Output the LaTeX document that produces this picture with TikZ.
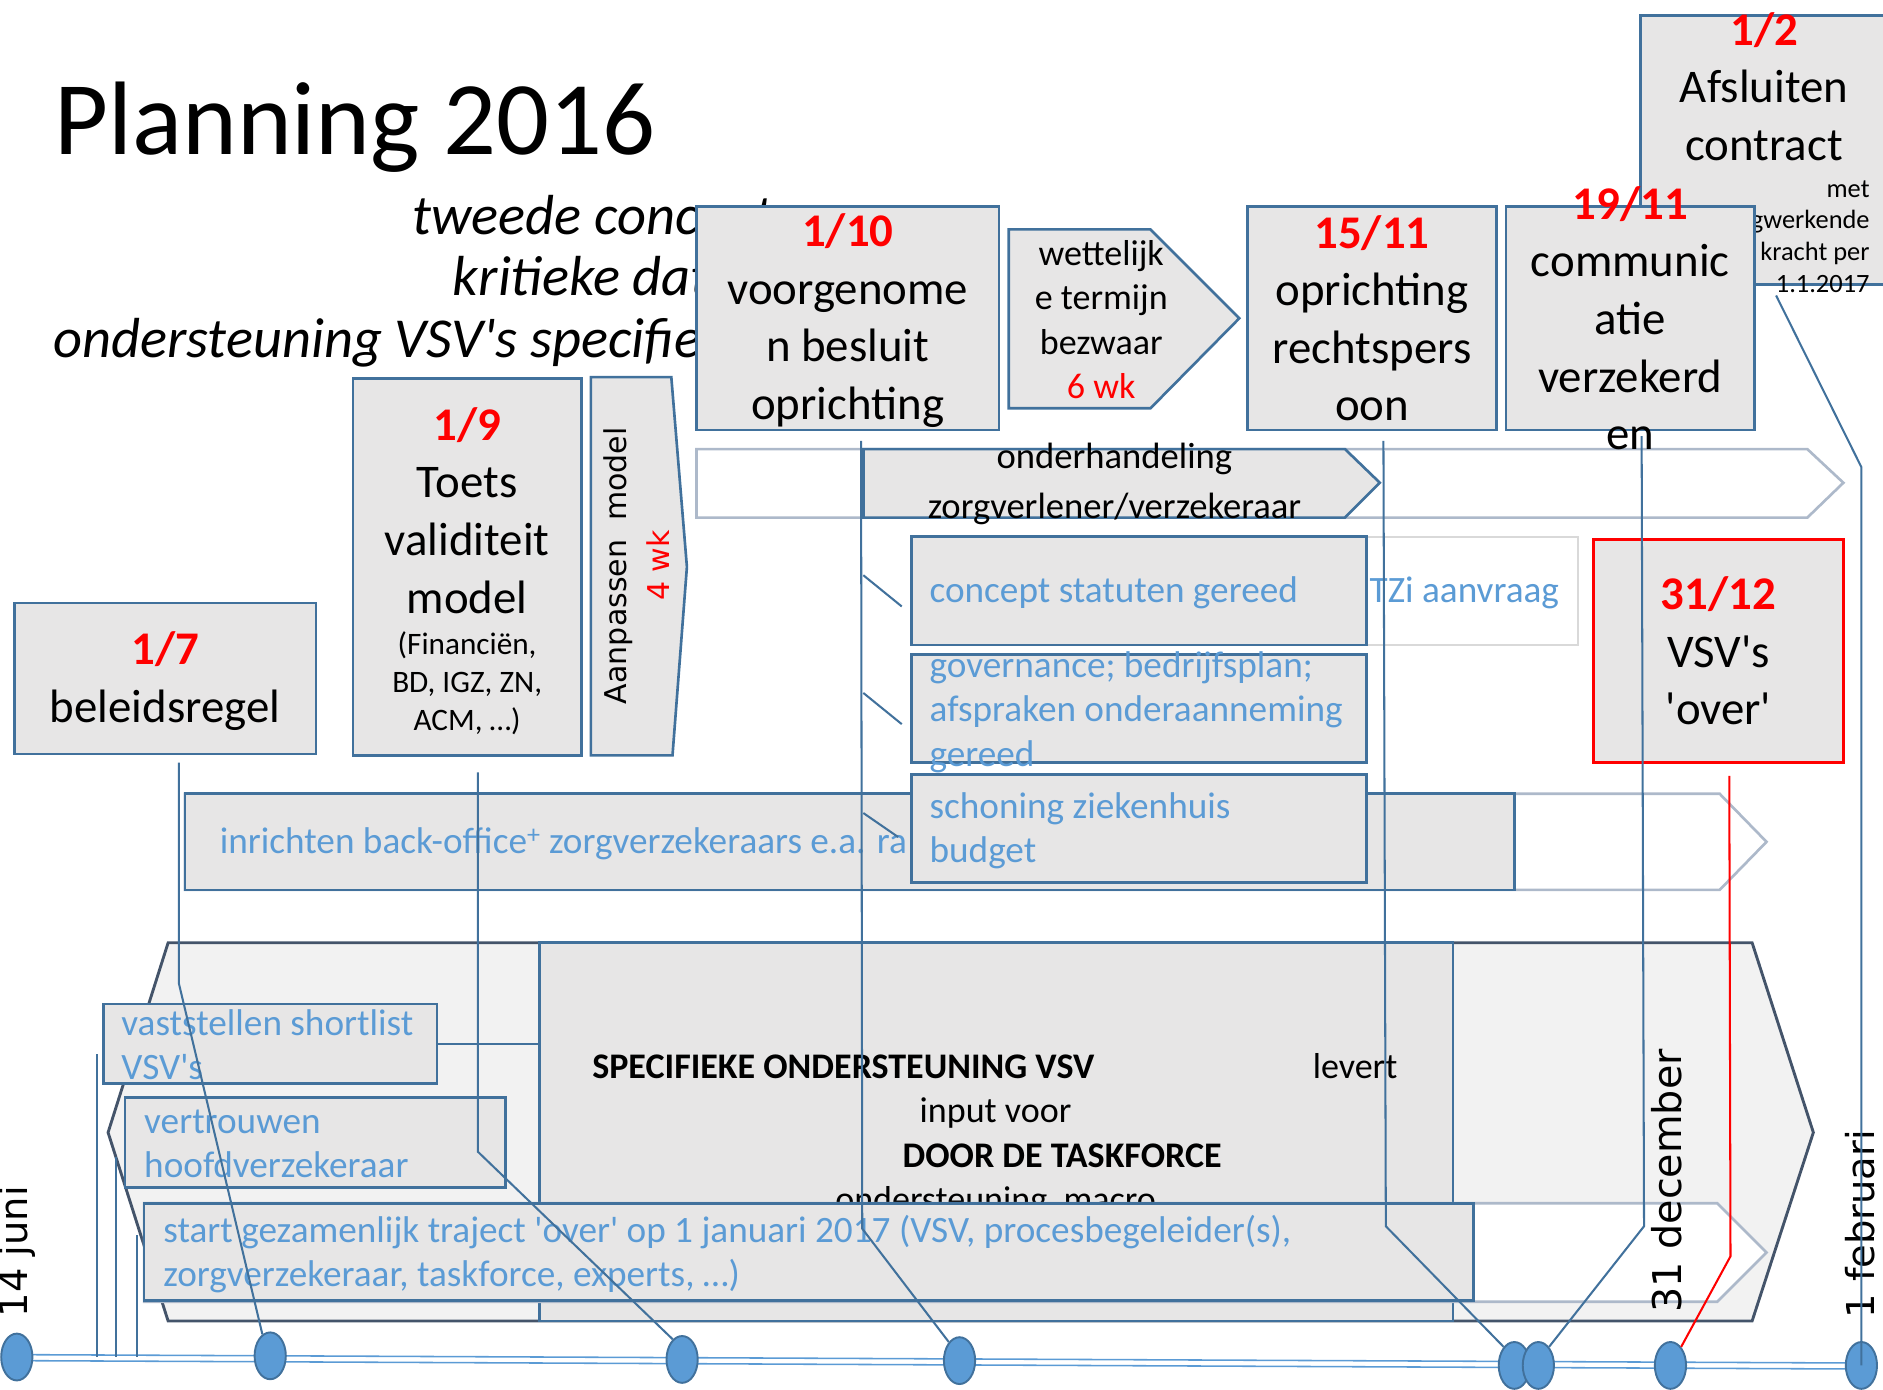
\documentclass[tikz,border=0pt]{standalone}
\usepackage{fontspec}
\setmainfont{Carlito}
\newfontfamily\dejavu{DejaVu Sans}
\usepackage{tikz}
\usetikzlibrary{shapes.geometric,calc}
\definecolor{boxblue}{RGB}{65,113,156}
\definecolor{boxgray}{RGB}{231,230,230}
\definecolor{txtblue}{RGB}{91,155,213}
\definecolor{palegray}{RGB}{173,185,202}
\definecolor{slate}{RGB}{68,84,106}
\definecolor{hexfill}{RGB}{242,242,242}
\definecolor{tzigray}{RGB}{217,217,217}
\newcommand\bigfnt{\fontsize{39}{48}\selectfont}
\newcommand\wetfnt{\fontsize{30}{37}\selectfont}
\newcommand\bluefnt{\fontsize{31}{37}\selectfont}
\newcommand\notefnt{\fontsize{26}{32}\selectfont}
\newcommand\tinyfnt{\fontsize{22}{26.5}\selectfont}
\newcommand\subfnt{\fontsize{47}{52}\selectfont\itshape}
\newcommand\datum[1]{{\bfseries\color{red}#1}}
\newcommand\apos{\textquotesingle}

\begin{document}
\begin{tikzpicture}[x=1pt, y=-1pt,
  gbox/.style={draw=boxblue, fill=boxgray, line width=2.2pt, inner sep=0pt},
  gshape/.style={draw=boxblue, fill=boxgray, line width=2.2pt},
  ghost/.style={draw=palegray, fill=white, line width=2.2pt},
  txt/.style={inner sep=0pt, align=center, font=\bigfnt},
  bluetxt/.style={inner sep=0pt, align=left, anchor=west, text=txtblue, font=\bluefnt},
  conn/.style={draw=boxblue, line width=1.7pt},
  tline/.style={draw=txtblue, line width=1.3pt},
  tdot/.style={ellipse, draw=boxblue, fill=txtblue, line width=1.6pt,
               minimum width=26pt, minimum height=39pt, inner sep=0pt},
  vlabel/.style={rotate=90, anchor=west, inner sep=0pt,
                 font=\dejavu\fontsize{32}{38}\selectfont}]
  \useasboundingbox (0,0) rectangle (1568,1157);
  \clip (0,0) rectangle (1568,1157);

  % title
  \node[anchor=base west, inner sep=0pt, font=\fontsize{87}{100}\selectfont]
    (title) at (45,129) {Planning 2016};
  \node[anchor=base west, inner sep=0pt, font=\subfnt] (sub1) at (343,195) {tweede concept};
  \node[anchor=base west, inner sep=0pt, font=\subfnt] (sub2) at (377,246) {kritieke data};
  \node[anchor=base west, inner sep=0pt, font=\subfnt] (sub3) at (44,298)
    {ondersteuning VSV\apos s specifiek};

  % 1/2 contract
  \node[gbox, minimum width=206pt, minimum height=224pt] (b12) at (1469,125) {};
  \node[txt] (t12) at (1469,72) {\datum{1/2}\\Afsluiten\\contract};
  \node[txt, align=right, anchor=east, font=\tinyfnt] (t12s) at (1557,197)
    {met\\terugwerkende\\kracht per\\1.1.2017};

  % onderhandeling
  \draw[ghost] (580,374) -- (1505,374) -- (1535,402) -- (1505,431) -- (580,431) -- cycle;
  \draw[gshape] (719,374) -- (1120,374) -- (1149,402) -- (1120,431) -- (719,431) -- cycle;
  \node[txt, font=\fontsize{30.5}{42}\selectfont] (tond) at (928,403)
    {onderhandeling\\zorgverlener/verzekeraar};

  % top row
  \node[gbox, minimum width=252pt, minimum height=186pt] (b110) at (706,265) {};
  \node[txt] (t110) at ($(b110)+(0,2)$) {\datum{1/10}\\voorgenome\\n besluit\\oprichting};
  \draw[gshape] (840,191) -- (958,191) -- (1032,265) -- (958,340) -- (840,340) -- cycle;
  \node[txt, font=\wetfnt] (twet) at (917,266)
    {wettelijk\\e termijn\\bezwaar\\\textcolor{red}{6 wk}};
  \node[gbox, minimum width=207pt, minimum height=186pt] (b1511) at (1142.5,265) {};
  \node[txt] (t1511) at (b1511) {\datum{15/11}\\oprichting\\rechtspers\\oon};
  \node[gbox, minimum width=207pt, minimum height=186pt] (b1911) at (1357.5,265) {};
  \node[txt] (t1911) at (b1911) {\datum{19/11}\\communic\\atie\\verzekerd\\en};

  % 1/9, aanpassen, 1/7
  \node[gbox, minimum width=190pt, minimum height=314pt] (b19) at (389,472) {};
  \node[txt] (t19) at (389,425) {\datum{1/9}\\Toets\\validiteit\\model};
  \node[txt, font=\notefnt] (t19s) at (389,569) {(Financiën,\\BD, IGZ, ZN,\\ACM, …)};
  \draw[gshape] (492,314) -- (559,314) -- (572,472) -- (560,629) -- (492,629) -- cycle;
  \node[txt, rotate=90, font=\dejavu\fontsize{25}{36}\selectfont] (taanp) at (530,471)
    {Aanpassen\ \ model\\\textcolor{red}{4 wk}};
  \node[gbox, minimum width=251pt, minimum height=126pt] (b17) at (137.5,565) {};
  \node[txt] (t17) at ($(b17)+(0,2)$) {\datum{1/7}\\beleidsregel};

  % inrichten back-office
  \draw[ghost] (154,661) -- (1432,661) -- (1471,701) -- (1432,741) -- (154,741) -- cycle;
  \node[gbox, minimum width=1107pt, minimum height=80pt] (binr) at (707.5,701) {};
  \node[bluetxt] (tinr) at ($(binr.west)+(30,2)$)
    {inrichten back-office\textsuperscript{+} zorgverzekeraars e.a. ra};

  % deliverables
  \node[draw=tzigray, fill=white, line width=1.4pt, inner sep=0pt,
        minimum width=176pt, minimum height=90pt] (btzi) at (1226,492) {};
  \node[bluetxt] (ttzi) at ($(btzi.west)+(3,2)$) {TZi aanvraag};
  \node[gbox, minimum width=379pt, minimum height=90pt] (bstat) at (948.5,492) {};
  \node[bluetxt] (tstat) at ($(bstat.west)+(16,2)$) {concept statuten gereed};
  \node[gbox, minimum width=379pt, minimum height=90pt] (bgov) at (948.5,590) {};
  \node[bluetxt] (tgov) at ($(bgov.west)+(16,3)$)
    {governance; bedrijfsplan;\\afspraken onderaanneming\\gereed};
  \node[gbox, minimum width=379pt, minimum height=90pt] (bschon) at (948.5,690) {};
  \node[bluetxt] (tschon) at ($(bschon.west)+(16,2)$) {schoning ziekenhuis\\budget};

  % 31/12
  \node[gbox, draw=red, minimum width=208pt, minimum height=186pt] (b3112) at (1431,542) {};
  \node[txt] (t3112) at (b3112) {\datum{31/12}\\VSV\apos s\\\apos over\apos};

  % specifieke ondersteuning
  \draw[draw=slate, fill=hexfill, line width=2.4pt]
    (140,785) -- (1459,785) -- (1510,943) -- (1459,1100) -- (140,1100) -- (90,943) -- cycle;
  \node[gbox, minimum width=761pt, minimum height=315pt] (bspec) at (829.5,942.5) {};
  \node[anchor=base west, inner sep=0pt, font=\wetfnt\bfseries] (tspec) at (493,898)
    {SPECIFIEKE ONDERSTEUNING VSV};
  \node[anchor=base west, inner sep=0pt, font=\wetfnt] (tlev) at (1093,898) {levert};
  \node[anchor=base, inner sep=0pt, font=\wetfnt] (tinp) at (829,935) {input voor};
  \node[anchor=base, inner sep=0pt, font=\wetfnt\bfseries] (tdoor) at (884.5,972)
    {DOOR DE TASKFORCE};
  \node[anchor=base, inner sep=0pt, font=\wetfnt] (tmac) at (829,1009)
    {ondersteuning\ \ macro};
  \node[gbox, minimum width=278pt, minimum height=66pt] (bvast) at (225,869) {};
  \node[bluetxt] (tvast) at ($(bvast.west)+(16,1)$) {vaststellen shortlist\\VSV\apos s};
  \node[gbox, minimum width=317pt, minimum height=75pt] (bvert) at (262.5,951.5) {};
  \node[bluetxt] (tvert) at ($(bvert.west)+(17,1)$) {vertrouwen\\hoofdverzekeraar};
  \draw[ghost] (120,1002) -- (1430,1002) -- (1471,1043) -- (1430,1084) -- (120,1084) -- cycle;
  \node[gbox, minimum width=1107pt, minimum height=81pt] (bstart) at (673.5,1042.5) {};
  \node[bluetxt] (tstart) at ($(bstart.west)+(17,2)$)
    {start gezamenlijk traject \apos over\apos{} op 1 januari 2017 (VSV, procesbegeleider(s),\\
     zorgverzekeraar, taskforce, experts, …)};
  \draw[conn] (bvast.east) -- (bvast.east -| bspec.west);

  % dates
  \node[vlabel] (l14) at (14,1097) {14 juni};
  \node[vlabel, font=\dejavu\fontsize{33}{38}\selectfont] (l31) at (1388,1093) {31 december};
  \node[vlabel] (l1f) at (1549,1098) {1 februari};

  % timeline
  \coordinate (tl0) at (14,1130);
  \coordinate (tl1) at (1550,1137);
  \draw[tline] ($(tl0)+(0,-2)$) -- ($(tl1)+(0,-2)$);
  \draw[tline] ($(tl0)+(0,3)$) -- ($(tl1)+(0,3)$);
  \foreach \n/\x/\y in {1/14/1130, 2/225/1129, 3/568/1132, 4/799/1133,
                        5/1261/1137, 6/1281/1137, 7/1391/1137, 8/1550/1137}{
    \node[tdot] (d\n) at (\x,\y) {};
  }

  % connectors
  \draw[conn] ($(bvast.west)+(-4,9)$) coordinate (v1) -- (v1 |- tl0);
  \draw[conn] ($(bvert.west)+(-6,12)$) coordinate (v2) -- (v2 |- tl0);
  \draw[conn] ($(bstart.west)+(-5,-14)$) coordinate (v3) -- (v3 |- tl0);
  \draw[conn] ($(b17.south)+(11.5,6)$) -- ++(0,184) -- (d2.110);
  \draw[conn] ($(b19.south)+(9,13)$) -- ++(0,316) -- (d3.115);
  \draw[conn] ($(b110.south)+(11,8)$) -- ++(1,656) -- (d4.120);
  \draw[conn] ($(b1511.south)+(9.5,8)$) -- ++(2,654) -- (d5.120);
  \draw[conn] ($(b1911.south)+(9.5,4)$) -- ++(2,658) -- (d6.60);
  \draw[conn, draw=red] ($(b3112.south)+(9,10)$) -- ++(1,400) -- (d7.60);
  \draw[conn] ($(b12.south)+(10,8)$) -- (d8 |- 0,389) -- (d8.center);
  \draw[conn] ($(bstat.west)+(-39,-13)$) -- ($(bstat.west)+(-7,13)$);
  \draw[conn] ($(bgov.west)+(-39,-13)$) -- ($(bgov.west)+(-7,13)$);
  \draw[conn] ($(bschon.west)+(-39,-13)$) -- ($(bschon.west)+(-10,7)$);
\end{tikzpicture}
\end{document}
